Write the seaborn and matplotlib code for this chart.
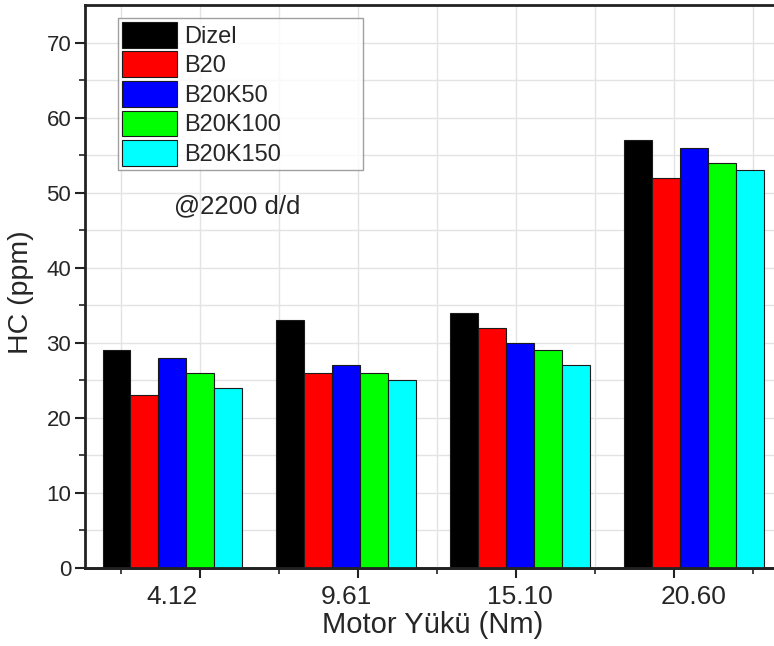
import matplotlib
matplotlib.use("Agg")
import matplotlib.pyplot as plt
import seaborn as sns
import pandas as pd
import numpy as np

# ---- data ----
loads = ["4.12", "9.61", "15.10", "20.60"]
fuels = ["Dizel", "B20", "B20K50", "B20K100", "B20K150"]
dizel = [29, 33, 34, 57]
b20 = [23, 26, 32, 52]
b20k50 = [28, 27, 30, 56]
b20k100 = [26, 26, 29, 54]
b20k150 = [24, 25, 27, 53]
colors = ["#000000", "#ff0000", "#0000ff", "#00ff00", "#00ffff"]

series = [dizel, b20, b20k50, b20k100, b20k150]
rows = []
for f, vals in zip(fuels, series):
    for l, v in zip(loads, vals):
        rows.append({"load": l, "fuel": f, "hc": v})
df = pd.DataFrame(rows)

sns.set_style("white")
plt.rcParams['font.family'] = ['Liberation Sans', 'DejaVu Sans']

fig = plt.figure(figsize=(7.74, 6.46), dpi=100)
ax = fig.add_axes([0.110, 0.1207, 0.899, 0.8716])

sns.barplot(data=df, x="load", y="hc", hue="fuel", order=loads, hue_order=fuels,
            palette=colors, saturation=1, width=0.8, gap=0,
            edgecolor="#1a1a1a", linewidth=0.8, ax=ax, errorbar=None)

ax.set_xlim(-0.5, 3.5)
ax.set_ylim(0, 75)

# y ticks
ax.set_yticks(np.arange(0, 71, 10))
ax.set_yticks(np.arange(5, 75, 10), minor=True)
ax.tick_params(axis="y", which="major", direction="out", length=7, width=1.5,
               labelsize=16, left=True, color="#222222", pad=3)
ax.tick_params(axis="y", which="minor", direction="out", length=4.5, width=1.2,
               left=True, color="#222222")

# x labels at group centres, no tick marks
ax.tick_params(axis="x", which="major", length=0, labelsize=19, pad=12)
grid_x = np.arange(-0.293, 3.5, 0.454)
ax.set_xticks(grid_x, minor=True)
ax.tick_params(axis="x", which="minor", length=0)

ax.grid(True, which="both", axis="both", color="#e3e3e3", linewidth=1.0)
ax.grid(False, which="major", axis="x")
ax.set_axisbelow(True)

# tick marks (Origin style) on a secondary axis
sec = ax.secondary_xaxis("bottom")
sec.set_xticks(grid_x[1::2])
sec.set_xticklabels([])
sec.set_xticks(grid_x[0::2], minor=True)
sec.tick_params(which="major", direction="out", length=7, width=1.5, color="#222222")
sec.tick_params(which="minor", direction="out", length=4.5, width=1.2, color="#222222")
sec.spines["bottom"].set_linewidth(2)
sec.spines["bottom"].set_color("#222222")

for s in ["left", "top", "bottom", "right"]:
    ax.spines[s].set_linewidth(2)
    ax.spines[s].set_color("#222222")

ax.set_xlabel("Motor Yükü (Nm)", fontsize=21, labelpad=2)
ax.set_ylabel("HC (ppm)", fontsize=20.5)
ax.yaxis.set_label_coords(-0.074, 0.49)

ax.text(0.374, 48.2, "@2200 d/d", fontsize=18.5, ha="center", va="center")

leg = ax.legend(loc="upper left", bbox_to_anchor=(0.047, 0.60, 0.353, 0.377),
                mode="expand", borderaxespad=0, fontsize=17, frameon=True,
                fancybox=False, edgecolor="#888888", handlelength=2.33,
                handleheight=1.3, labelspacing=0.16, handletextpad=0.3,
                borderpad=0.17)
leg.get_frame().set_linewidth(1.0)

fig.savefig("out.png", dpi=100)
